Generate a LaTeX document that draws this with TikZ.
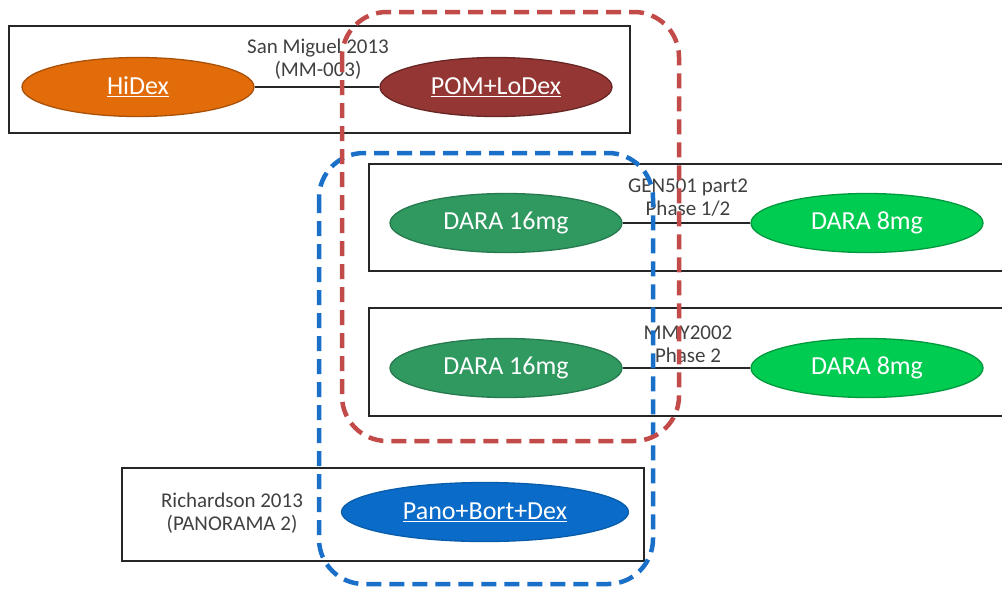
\documentclass[tikz,border=0pt]{standalone}
\usepackage{fontspec}
\setmainfont{Carlito}
\usepackage{xcolor}
\usepackage{tikz}
\usetikzlibrary{shapes.geometric}

\definecolor{hidexorange}{HTML}{E36C0A}
\definecolor{pomred}{HTML}{943634}
\definecolor{daradark}{HTML}{2F9960}
\definecolor{daralight}{HTML}{00CC52}
\definecolor{panoblue}{HTML}{0A6CC8}
\definecolor{dashred}{HTML}{C24A48}
\definecolor{dashblue}{HTML}{1A6FC8}
\definecolor{labelgray}{HTML}{404040}

\begin{document}
\begin{tikzpicture}[
    x=1pt, y=-1pt,
    trialbox/.style={rectangle, draw=black!85, line width=1.6pt, anchor=north west, inner sep=0pt},
    arm/.style={ellipse, line width=1.3pt, minimum width=232pt, minimum height=59pt, inner sep=0pt,
                text=white, font=\fontsize{26}{30}\selectfont},
    triallabel/.style={align=center, text=labelgray, font=\fontsize{21}{23}\selectfont, inner sep=0pt},
    link/.style={line width=1.3pt, black!85},
    group/.style={line width=4.5pt, dash pattern=on 15pt off 8pt, rounded corners=45pt},
]
\useasboundingbox (0,0) rectangle (1002,590);

% Trial boxes
\node[trialbox, minimum width=621pt, minimum height=107pt] (smbox) at (8,25) {};
\node[trialbox, minimum width=650pt, minimum height=107pt] (genbox) at (368,163) {};
\node[trialbox, minimum width=650pt, minimum height=108pt] (mmybox) at (368,307) {};
\node[trialbox, minimum width=522pt, minimum height=93pt] (panbox) at (121,467) {};

% San Miguel 2013
\node[arm, fill=hidexorange, draw=hidexorange!75!black] (hidex) at (138,87) {\underline{HiDex}};
\node[arm, fill=pomred, draw=pomred!70!black] (pomlodex) at (496,87) {\underline{POM+LoDex}};
\node[triallabel] (smlabel) at (318,59) {San Miguel 2013\\(MM-003)};
\draw[link] (hidex) -- (pomlodex);

% GEN501 part2
\node[arm, fill=daradark, draw=daradark!80!black] (daraA) at (506,223) {DARA 16mg};
\node[arm, fill=daralight, draw=daralight!75!black] (daraB) at (867,223) {DARA 8mg};
\node[triallabel] (genlabel) at (688,198) {GEN501 part2\\Phase 1/2};
\draw[link] (daraA) -- (daraB);

% MMY2002
\node[arm, fill=daradark, draw=daradark!80!black] (daraC) at (506,368) {DARA 16mg};
\node[arm, fill=daralight, draw=daralight!75!black] (daraD) at (867,368) {DARA 8mg};
\node[triallabel] (mmylabel) at (688,344) {MMY2002\\Phase 2};
\draw[link] (daraC) -- (daraD);

% Richardson 2013
\node[arm, fill=panoblue, draw=panoblue!85!black, minimum width=287pt, minimum height=59pt] (pano) at (485,512) {\underline{Pano+Bort+Dex}};
\node[triallabel] (panlabel) at (232,513) {Richardson 2013\\(PANORAMA 2)};

% Groups
\draw[group, dashblue] (319,153) rectangle (653,584);
\draw[group, dashred] (342,12) rectangle (679,441);

\end{tikzpicture}
\end{document}
